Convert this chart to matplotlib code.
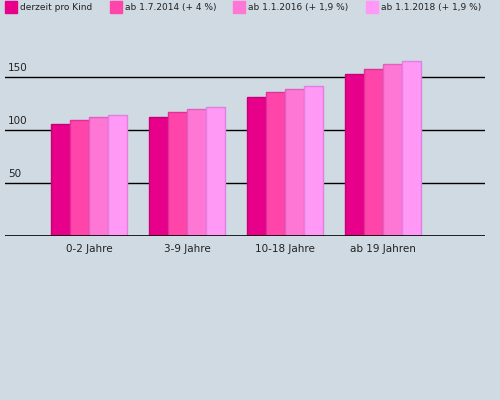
import matplotlib
matplotlib.use("Agg")
import matplotlib.pyplot as plt
from matplotlib.patches import Rectangle
import numpy as np

categories = ["0-2 Jahre", "3-9 Jahre", "10-18 Jahre", "ab 19 Jahren"]
series_names = ["derzeit pro Kind", "ab 1.7.2014 (+ 4 %)", "ab 1.1.2016 (+ 1,9 %)", "ab 1.1.2018 (+ 1,9 %)"]
s1 = [106, 112, 131, 153]
s2 = [109, 117, 136, 158]
s3 = [112, 120, 139, 162]
s4 = [114, 122, 142, 165]
yticks = [50, 100, 150]

colors = ["#e6008a", "#ff44aa", "#ff77d4", "#ff99f5"]
edges = ["#c80078", "#e0309a", "#e060c0", "#e080e0"]
bg = "#d0dae2"

fig = plt.figure(figsize=(5, 4), dpi=100, facecolor=bg)
ax = fig.add_axes([0.01, 0.41, 0.96, 0.465])
ax.set_facecolor(bg)
x = np.arange(len(categories))
w = 0.194
for i, s in enumerate([s1, s2, s3, s4]):
    ax.bar(x + (i - 1.5) * w, s, w, color=colors[i], edgecolor=edges[i], linewidth=1, zorder=3)
for t in yticks:
    ax.axhline(t, color="black", lw=1, zorder=1)
    ax.text(0.006, t + 4, str(t), transform=ax.get_yaxis_transform(), fontsize=7.5, color="#222", va="bottom", ha="left")
ax.axhline(0, color="black", lw=1.2, zorder=4)
ax.set_xlim(-0.857, 4.04)
ax.set_ylim(0, 175.5)
for sp in ax.spines.values():
    sp.set_visible(False)
ax.set_yticks([])
ax.set_xticks(x)
ax.set_xticklabels(categories, fontsize=7.5, color="#222")
ax.tick_params(axis="x", length=0, pad=6)

sq = [5, 110, 233, 366]
for i, name in enumerate(series_names):
    fig.patches.append(Rectangle((sq[i] / 500, 1 - 13 / 400), 12 / 500, 12 / 400,
                                 transform=fig.transFigure, color=colors[i]))
    fig.text((sq[i] + 15) / 500, 1 - 7.5 / 400, name, fontsize=6.5, va="center", ha="left", color="#222")

fig.savefig("out.png", dpi=100, facecolor=bg)
